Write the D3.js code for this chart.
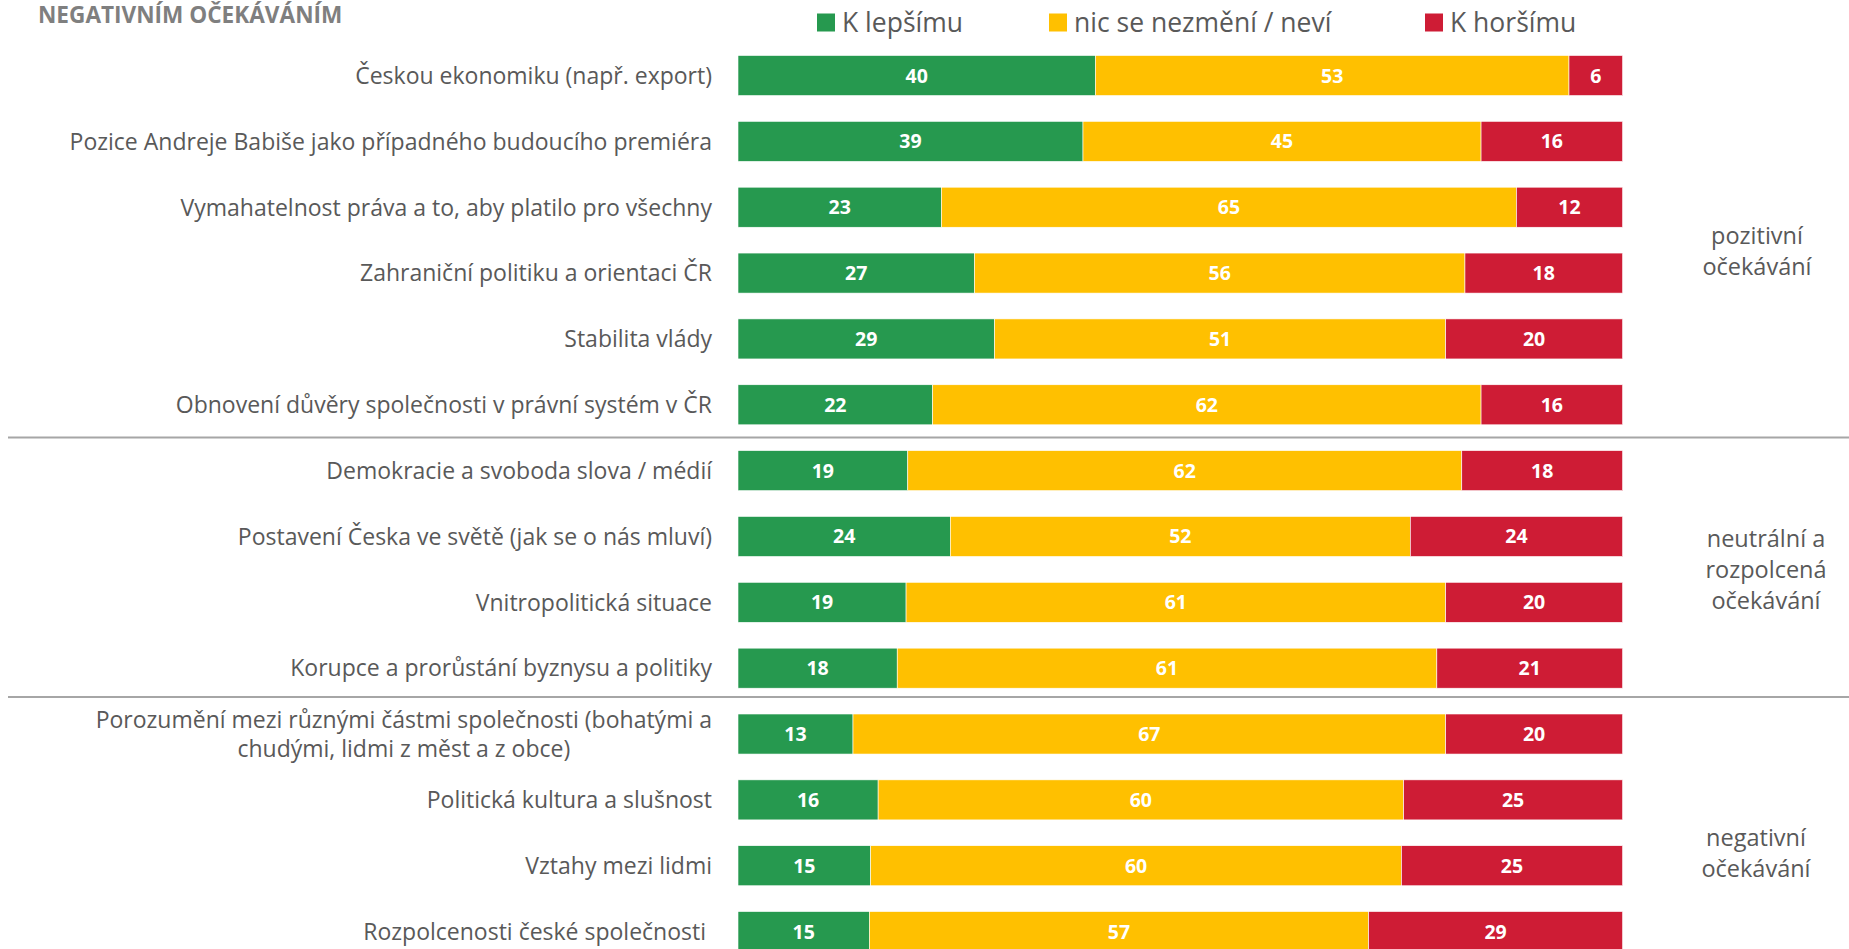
<!DOCTYPE html>
<html>
<head>
  <meta charset="utf-8">
  <title>očekávání</title>
  <script src="https://cdn.jsdelivr.net/npm/d3@7"></script>
  <style>
    body { margin: 0; background: #fff; }
    text { font-family: "Open Sans", sans-serif; }
  </style>
</head>
<body>
  <svg width="1849" height="949" id="mainsvg"></svg>
  <script>
    // data
    const categories = [
      "Českou ekonomiku (např. export)",
      "Pozice Andreje Babiše jako případného budoucího premiéra",
      "Vymahatelnost práva a to, aby platilo pro všechny",
      "Zahraniční politiku a orientaci ČR",
      "Stabilita vlády",
      "Obnovení důvěry společnosti v právní systém v ČR",
      "Demokracie a svoboda slova / médií",
      "Postavení Česka ve světě (jak se o nás mluví)",
      "Vnitropolitická situace",
      "Korupce a prorůstání byznysu a politiky",
      "Porozumění mezi různými částmi společnosti (bohatými a|chudými, lidmi z měst a z obce)",
      "Politická kultura a slušnost",
      "Vztahy mezi lidmi",
      "Rozpolcenosti české společnosti "
    ];
    const better  = [40, 39, 23, 27, 29, 22, 19, 24, 19, 18, 13, 16, 15, 15];
    const neutral = [53, 45, 65, 56, 51, 62, 62, 52, 61, 61, 67, 60, 60, 57];
    const worse   = [ 6, 16, 12, 18, 20, 16, 18, 24, 20, 21, 20, 25, 25, 29];

    const seriesNames = ["K lepšímu", "nic se nezmění / neví", "K horšímu"];
    const groupLabels = [["pozitivní", "očekávání"], ["neutrální a", "rozpolcená", "očekávání"], ["negativní", "očekávání"]];
    const groupStart = [0, 6, 10];
    const groupEnd   = [5, 9, 13];
    const title = "NEGATIVNÍM OČEKÁVÁNÍM";

    const colors = ["#26994f", "#ffc000", "#ce1c35"];
    const keys = ["better", "neutral", "worse"];

    let svg = d3.select('#mainsvg');

    const rows = categories.map((c, i) => ({cat: c, better: better[i], neutral: neutral[i], worse: worse[i]}));
    const stack = d3.stack().keys(keys).offset(d3.stackOffsetExpand);
    const series = stack(rows);

    const x = d3.scaleLinear().domain([0, 1]).range([738, 1622.6]);
    const y = d3.scaleBand().domain(categories).range([42.6, 964.5])
      .paddingInner(0.392).paddingOuter(0.196);

    // title
    svg.append('text')
      .attr('x', 38).attr('y', 23)
      .attr('fill', '#7f7f7f')
      .attr('font-weight', 'bold')
      .attr('font-size', 22.6)
      .text(title);

    // legend
    const legendX = [817, 1049, 1425];
    const leg = svg.append('g').selectAll('g').data(seriesNames).enter().append('g')
      .attr('transform', (d, i) => `translate(${legendX[i]},0)`);
    leg.append('rect')
      .attr('x', 0).attr('y', 13.5).attr('width', 18).attr('height', 18)
      .attr('fill', (d, i) => colors[i]);
    leg.append('text')
      .attr('x', 25).attr('y', 32)
      .attr('font-size', 26.5)
      .attr('fill', '#595959')
      .text(d => d);

    // separators
    const sepOffset = [13, 17];
    [6, 10].forEach((gi, i) => {
      const yy = y(categories[gi]) - sepOffset[i];
      svg.append('line')
        .attr('x1', 8).attr('x2', 1849)
        .attr('y1', yy).attr('y2', yy)
        .attr('stroke', '#a6a6a6').attr('stroke-width', 2);
    });

    // bars
    const layers = svg.append('g').selectAll('g').data(series).enter().append('g')
      .attr('fill', (d, i) => colors[i]);
    layers.selectAll('rect').data(d => d).enter().append('rect')
      .attr('x', d => x(d[0]))
      .attr('y', d => y(d.data.cat))
      .attr('width', d => x(d[1]) - x(d[0]))
      .attr('height', y.bandwidth())
      .attr('stroke', '#fff').attr('stroke-width', 0.6);

    // value labels
    series.forEach(s => {
      svg.append('g').selectAll('text').data(s).enter().append('text')
        .attr('x', d => (x(d[0]) + x(d[1])) / 2)
        .attr('y', d => y(d.data.cat) + y.bandwidth() / 2)
        .attr('dy', '0.36em')
        .attr('text-anchor', 'middle')
        .attr('fill', '#fff')
        .attr('font-weight', 'bold')
        .attr('font-size', 19.5)
        .text(d => d.data[s.key]);
    });

    // category labels
    const labelRight = 712;
    categories.forEach(c => {
      const lines = c.split('|');
      const cy = y(c) + y.bandwidth() / 2;
      if (lines.length === 1) {
        svg.append('text')
          .attr('x', labelRight).attr('y', cy).attr('dy', '0.36em')
          .attr('text-anchor', 'end')
          .attr('font-size', 23).attr('fill', '#595959')
          .style('white-space', 'pre')
          .text(c);
      } else {
        const t = svg.append('text')
          .attr('text-anchor', 'middle')
          .attr('font-size', 23).attr('fill', '#595959');
        const spans = lines.map((l, j) => t.append('tspan')
          .attr('y', cy + (j - (lines.length - 1) / 2) * 29.5)
          .attr('dy', '0.36em')
          .text(l));
        const w = d3.max(spans, s => s.node().getComputedTextLength());
        spans.forEach(s => s.attr('x', labelRight - w / 2));
      }
    });

    // group labels
    const groupX = [1757, 1766, 1756];
    const groupOffset = [11, 0, 20];
    groupLabels.forEach((g, i) => {
      const yc = (y(categories[groupStart[i]]) + y(categories[groupEnd[i]]) + y.bandwidth()) / 2 + groupOffset[i];
      const t = svg.append('text')
        .attr('text-anchor', 'middle')
        .attr('font-size', 23.5).attr('fill', '#595959');
      g.forEach((l, j) => {
        t.append('tspan')
          .attr('x', groupX[i])
          .attr('y', yc + (j - (g.length - 1) / 2) * 31)
          .attr('dy', '0.36em')
          .text(l);
      });
    });
  </script>
</body>
</html>
